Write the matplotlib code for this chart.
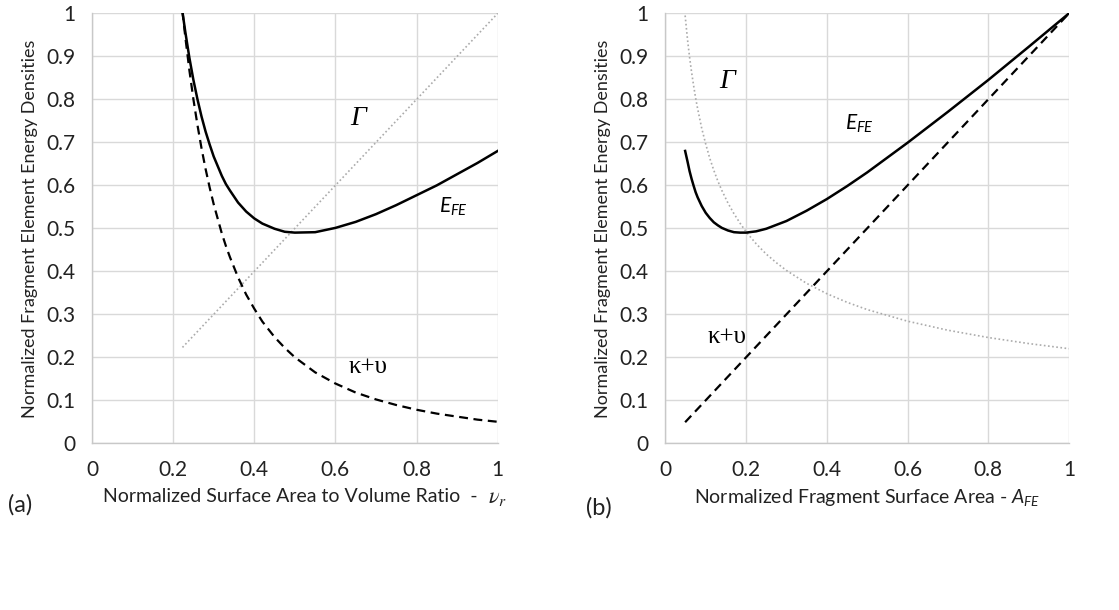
import matplotlib
matplotlib.use('Agg')
import matplotlib.pyplot as plt

plt.rcParams['font.family'] = ['Lato', 'DejaVu Sans']
plt.rcParams['mathtext.fontset'] = 'custom'
plt.rcParams['mathtext.rm'] = 'Lato'
plt.rcParams['mathtext.it'] = 'Lato:italic'

# (a) energy densities vs normalized surface-area-to-volume ratio
vr = [0.223, 0.23, 0.24, 0.25, 0.26, 0.27, 0.28, 0.29, 0.30, 0.32, 0.33, 0.34,
      0.36, 0.38, 0.40, 0.42, 0.45, 0.475, 0.50, 0.55, 0.60, 0.65, 0.70,
      0.75, 0.80, 0.85, 0.90, 0.95, 1.00]
e_fe_a = [1.003, 0.957, 0.897, 0.845, 0.800, 0.760, 0.725, 0.695, 0.667, 0.622,
          0.603, 0.588, 0.560, 0.539, 0.523, 0.511, 0.499, 0.492, 0.490, 0.491,
          0.501, 0.515, 0.533, 0.554, 0.577, 0.600, 0.626, 0.652, 0.680]
kv_a = [1.005, 0.945, 0.868, 0.800, 0.740, 0.686, 0.638, 0.595, 0.556, 0.488,
        0.459, 0.433, 0.386, 0.346, 0.313, 0.283, 0.247, 0.222, 0.200, 0.165,
        0.139, 0.118, 0.102, 0.089, 0.078, 0.069, 0.062, 0.055, 0.050]
gamma_x_a = [0.223, 1.0]
gamma_a = [0.223, 1.0]

# (b) energy densities vs normalized fragment surface area
afe = [0.049, 0.055, 0.06, 0.065, 0.07, 0.075, 0.08, 0.09, 0.10, 0.11, 0.12,
       0.13, 0.14, 0.155, 0.17, 0.185, 0.20, 0.225, 0.25, 0.275, 0.30, 0.35,
       0.40, 0.45, 0.50, 0.60, 0.70, 0.80, 0.90, 1.00]
e_fe_b = [0.680, 0.655, 0.633, 0.615, 0.599, 0.584, 0.572, 0.552, 0.536, 0.524,
          0.514, 0.507, 0.501, 0.495, 0.491, 0.490, 0.490, 0.493, 0.499, 0.508,
          0.517, 0.541, 0.568, 0.598, 0.630, 0.699, 0.771, 0.845, 0.922, 1.000]
gamma_b = [0.995, 0.938, 0.898, 0.863, 0.832, 0.803, 0.778, 0.733, 0.696, 0.663,
           0.635, 0.610, 0.588, 0.559, 0.534, 0.512, 0.492, 0.464, 0.440, 0.420,
           0.402, 0.372, 0.348, 0.328, 0.311, 0.284, 0.263, 0.246, 0.232, 0.220]
kv_x_b = [0.049, 1.0]
kv_b = [0.049, 1.0]

ticks = [0, 0.2, 0.4, 0.6, 0.8, 1]
yticks = [0, 0.1, 0.2, 0.3, 0.4, 0.5, 0.6, 0.7, 0.8, 0.9, 1]
tick_fmt = lambda v: f'{v:g}'

GRID = '#d9d9d9'
TEXT = '#222222'
SERIF = ['Liberation Serif', 'DejaVu Serif']


def style_axes(ax):
    ax.set_xlim(0, 1)
    ax.set_ylim(0, 1)
    ax.set_xticks(ticks)
    ax.set_xticklabels([tick_fmt(t) for t in ticks])
    ax.set_yticks(yticks)
    ax.set_yticklabels([tick_fmt(t) for t in yticks])
    ax.tick_params(length=0, labelsize=15, pad=12, colors=TEXT)
    ax.grid(True, color=GRID, linewidth=1.0)
    ax.set_axisbelow(True)
    for side in ('top', 'right'):
        ax.spines[side].set_visible(False)
    for side in ('left', 'bottom'):
        ax.spines[side].set_color('#c8c8c8')
        ax.spines[side].set_linewidth(1.0)
    ax.set_ylabel('Normalized Fragment Element Energy Densities', fontsize=13,
                  labelpad=6, color=TEXT)


def draw_curves(ax, x_e, e_fe, x_k, kv, x_g, gam):
    ax.plot(x_g, gam, color='#ababab', linestyle=(0, (1, 1.5)), linewidth=1.2)
    ax.plot(x_k, kv, color='black', linestyle=(0, (4, 2.5)), linewidth=1.6)
    ax.plot(x_e, e_fe, color='black', linewidth=1.8, solid_joinstyle='round')


fig = plt.figure(figsize=(11.19, 6.10), dpi=100)
ax1 = fig.add_axes([0.0822, 0.2733, 0.3626, 0.7048])
ax2 = fig.add_axes([0.5946, 0.2733, 0.3607, 0.7048])

# left panel
style_axes(ax1)
draw_curves(ax1, vr, e_fe_a, vr, kv_a, gamma_x_a, gamma_a)
ax1.text(0.657, 0.756, 'Γ', family=SERIF, style='italic', fontsize=20, ha='center', va='center')
ax1.text(0.891, 0.55, '$E_{FE}$', fontsize=15, ha='center', va='center')
ax1.text(0.681, 0.178, 'κ+υ', family=SERIF, fontsize=18, ha='center', va='center')
ax1.set_xlabel('Normalized Surface Area to Volume Ratio  -  ', fontsize=14,
               labelpad=6, color=TEXT)

# right panel
style_axes(ax2)
draw_curves(ax2, afe, e_fe_b, kv_x_b, kv_b, afe, gamma_b)
ax2.text(0.152, 0.841, 'Γ', family=SERIF, style='italic', fontsize=20, ha='center', va='center')
ax2.text(0.482, 0.744, '$E_{FE}$', fontsize=15, ha='center', va='center')
ax2.text(0.152, 0.248, 'κ+υ', family=SERIF, fontsize=18, ha='center', va='center')
ax2.set_xlabel('Normalized Fragment Surface Area - $A_{FE}$', fontsize=14,
               labelpad=5, color=TEXT)

# serif nu with subscript after the left x label
fig.canvas.draw()
bb = ax1.xaxis.label.get_window_extent()
fig.text((bb.x1 + 1) / fig.bbox.width, (bb.y0 + bb.height * 0.45) / fig.bbox.height,
         r'$\nu_r$', fontsize=16, ha='left', va='center', color=TEXT,
         math_fontfamily='stix')

fig.text(0.007, 0.172, '(a)', fontsize=17, va='center', color=TEXT)
fig.text(0.524, 0.168, '(b)', fontsize=17, va='center', color=TEXT)

fig.savefig('out.png', dpi=100)
